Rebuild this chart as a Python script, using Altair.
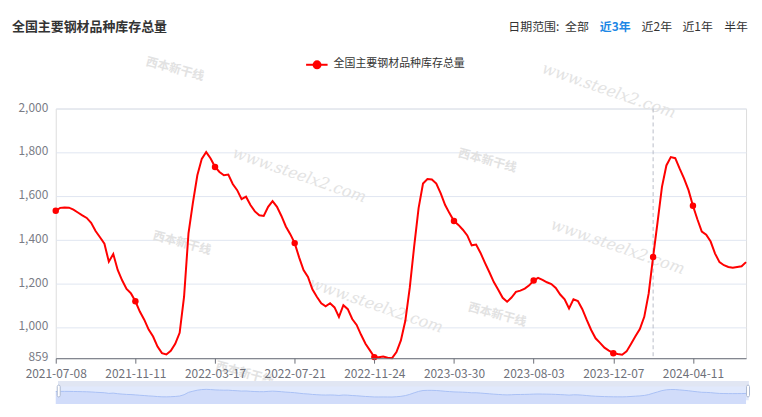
import altair as alt
import pandas as pd

# ---------------- data ----------------
dates = [d.strftime("%Y-%m-%d") for d in pd.date_range("2021-07-08", periods=157, freq="7D")]
values = [
    1533, 1546, 1548, 1547, 1538, 1525, 1512, 1500, 1478, 1440,
    1412, 1382, 1300, 1335, 1262, 1215, 1176, 1155, 1119, 1072,
    1035, 990, 958, 912, 882, 876, 893, 925, 975, 1140,
    1430, 1570, 1695, 1770, 1801, 1772, 1733, 1710, 1695, 1698,
    1655, 1627, 1586, 1597, 1559, 1530, 1512, 1509, 1551, 1577,
    1551, 1509, 1461, 1426, 1385, 1320, 1262, 1230, 1174, 1140,
    1110, 1096, 1110, 1091, 1048, 1101, 1083, 1038, 1011, 966,
    925, 895, 864, 863, 867, 861, 859, 887, 940, 1030,
    1180, 1370, 1545, 1657, 1678, 1676, 1657, 1612, 1559, 1521,
    1486, 1468, 1446, 1420, 1375, 1378, 1340, 1295, 1252, 1207,
    1172, 1135, 1117, 1136, 1162, 1168, 1177, 1192, 1214, 1226,
    1217, 1206, 1198, 1180, 1150, 1128, 1086, 1128, 1120, 1083,
    1034, 988, 950, 929, 907, 894, 882, 878, 875, 890,
    924, 959, 992, 1048, 1155, 1322, 1480, 1642, 1740, 1778,
    1773, 1725, 1680, 1627, 1556, 1494, 1438, 1423, 1392, 1337,
    1298, 1284, 1276, 1272, 1276, 1279, 1298,
]
tick_dates = ["2021-07-08", "2021-11-11", "2022-03-17", "2022-07-21", "2022-11-24",
              "2023-03-30", "2023-08-03", "2023-12-07", "2024-04-11"]
y_ticks = [859, 1000, 1200, 1400, 1600, 1800, 2000]
hover_date = "2024-02-08"
series_name = "全国主要钢材品种库存总量"
chart_title = "全国主要钢材品种库存总量"
range_labels = ["日期范围:", "全部", "近3年", "近2年", "近1年", "半年"]
watermark_url = "www.steelx2.com"
watermark_logo = "西本新干线"

df = pd.DataFrame({"date": dates, "value": values})
df_pts = df[df["date"].isin(set(tick_dates) | {hover_date})]
df_hover = pd.DataFrame({"date": [hover_date]})

W, H = 694, 251
FONT = "Noto Sans CJK SC"
RED = "#FF0000"

x_scale = alt.Scale(type="point", padding=0, domain=dates)
x_axis = alt.Axis(values=tick_dates, labelAngle=0, domainColor="#6E7079", tickColor="#6E7079",
                  tickSize=5, labelColor="#6E7079", labelFontSize=12, labelPadding=5,
                  title=None, grid=False, labelFlush=False, labelOverlap=False, zindex=1,
                  labelFont=FONT)
y_scale = alt.Scale(domain=[859, 2000], nice=False, zero=False)
y_axis = alt.Axis(values=y_ticks, format=",d", grid=True, gridColor="#E0E6F1", domain=False,
                  ticks=False, labelColor="#7A7C86", labelFontSize=12, labelPadding=8,
                  labelOffset=-1.5, title=None, labelFont=FONT)


def text_layer(txt, x, y, **kw):
    kw.setdefault("font", FONT)
    return alt.Chart(pd.DataFrame({"t": [txt]})).mark_text(**kw).encode(
        text="t:N", x=alt.value(x), y=alt.value(y))


# watermarks (faint)
wm = []
for cx, cy in [(245, 67), (322, 198), (565, 139), (556, -18)]:
    wm.append(text_layer(watermark_url, cx, cy, fontSize=16, font="DejaVu Serif", fontStyle="italic",
                         angle=19, color="#E3E3E3"))
for cx, cy in [(127, 135), (434, 52), (444, 207), (190, 266), (120, -40)]:
    wm.append(text_layer(watermark_logo, cx, cy, fontSize=12, fontWeight="bold", angle=15,
                         color="#E2E2E2"))

hover_rule = alt.Chart(df_hover).mark_rule(color="#B9BCC8", strokeDash=[4, 3], strokeWidth=1).encode(
    x=alt.X("date:O", scale=x_scale, axis=x_axis), y=alt.value(0), y2=alt.value(H))

line = alt.Chart(df).mark_line(color=RED, strokeWidth=2).encode(
    x=alt.X("date:O", scale=x_scale, axis=x_axis),
    y=alt.Y("value:Q", scale=y_scale, axis=y_axis))

pts = alt.Chart(df_pts).mark_circle(color=RED, size=42, opacity=1).encode(
    x=alt.X("date:O", scale=x_scale, axis=x_axis),
    y=alt.Y("value:Q", scale=y_scale, axis=None))

# data-zoom slider below the plot
slider_bg = alt.Chart(pd.DataFrame({"t": [0]})).mark_rect(color="#E1E9FC").encode(
    x=alt.value(2.3), x2=alt.value(696.7), y=alt.value(274), y2=alt.value(293.3))
slider_top = alt.Chart(pd.DataFrame({"t": [0]})).mark_rect(color="#E1E6F3").encode(
    x=alt.value(2.3), x2=alt.value(696.7), y=alt.value(274), y2=alt.value(279.5))
slider_area = alt.Chart(df).mark_area(color="#D1DCFA", opacity=1, line={"color": "#A9C1F5", "strokeWidth": 1}).encode(
    x=alt.X("date:O", scale=x_scale, axis=x_axis),
    y=alt.Y("value:Q", scale=alt.Scale(domain=[859, 1801], range=[290.0, 282.3], nice=False, zero=False), axis=None),
    y2=alt.value(293.3))
handle_l = alt.Chart(pd.DataFrame({"t": [0]})).mark_rect(fill="#FFFFFF", stroke="#ACB8D1", strokeWidth=1, cornerRadius=2).encode(
    x=alt.value(1.5), x2=alt.value(4.5), y=alt.value(278), y2=alt.value(290))
handle_r = alt.Chart(pd.DataFrame({"t": [0]})).mark_rect(fill="#FFFFFF", stroke="#ACB8D1", strokeWidth=1, cornerRadius=2).encode(
    x=alt.value(694.5), x2=alt.value(697.5), y=alt.value(278), y2=alt.value(290))

# title, range selector, legend
title_l = text_layer(chart_title, -44, -82, align="left", baseline="middle", fontSize=13,
                     fontWeight="bold", color="#333333")
range_x = [455, 512, 547, 589, 630, 672]
range_layers = []
for lab, rx in zip(range_labels, range_x):
    col = "#1E88E5" if lab == "近3年" else "#333333"
    wt = "bold" if lab == "近3年" else "normal"
    range_layers.append(text_layer(lab, rx, -82.3, align="left", baseline="middle", fontSize=12,
                                   color=col, fontWeight=wt))

leg_line = alt.Chart(pd.DataFrame({"t": [0]})).mark_rule(color=RED, strokeWidth=2).encode(
    x=alt.value(251.7), x2=alt.value(273.3), y=alt.value(-44))
leg_pt = alt.Chart(pd.DataFrame({"t": [0]})).mark_circle(color=RED, size=80, opacity=1).encode(
    x=alt.value(262.7), y=alt.value(-44))
leg_txt = text_layer(series_name, 279.3, -44.5, align="left", baseline="middle", fontSize=11,
                     color="#333333")

chart = alt.layer(
    *wm, slider_bg, slider_top, slider_area, handle_l, handle_r,
    hover_rule, line, pts, title_l, *range_layers, leg_line, leg_pt, leg_txt
).resolve_scale(y="independent").properties(
    width=W, height=H,
    autosize=alt.AutoSizeParams(type="none"),
    padding={"left": 48, "top": 100, "right": 8, "bottom": 50},
).configure_view(stroke=None).configure(background="white")

chart.save("out.html", embed_options={"renderer": "svg", "actions": False})
